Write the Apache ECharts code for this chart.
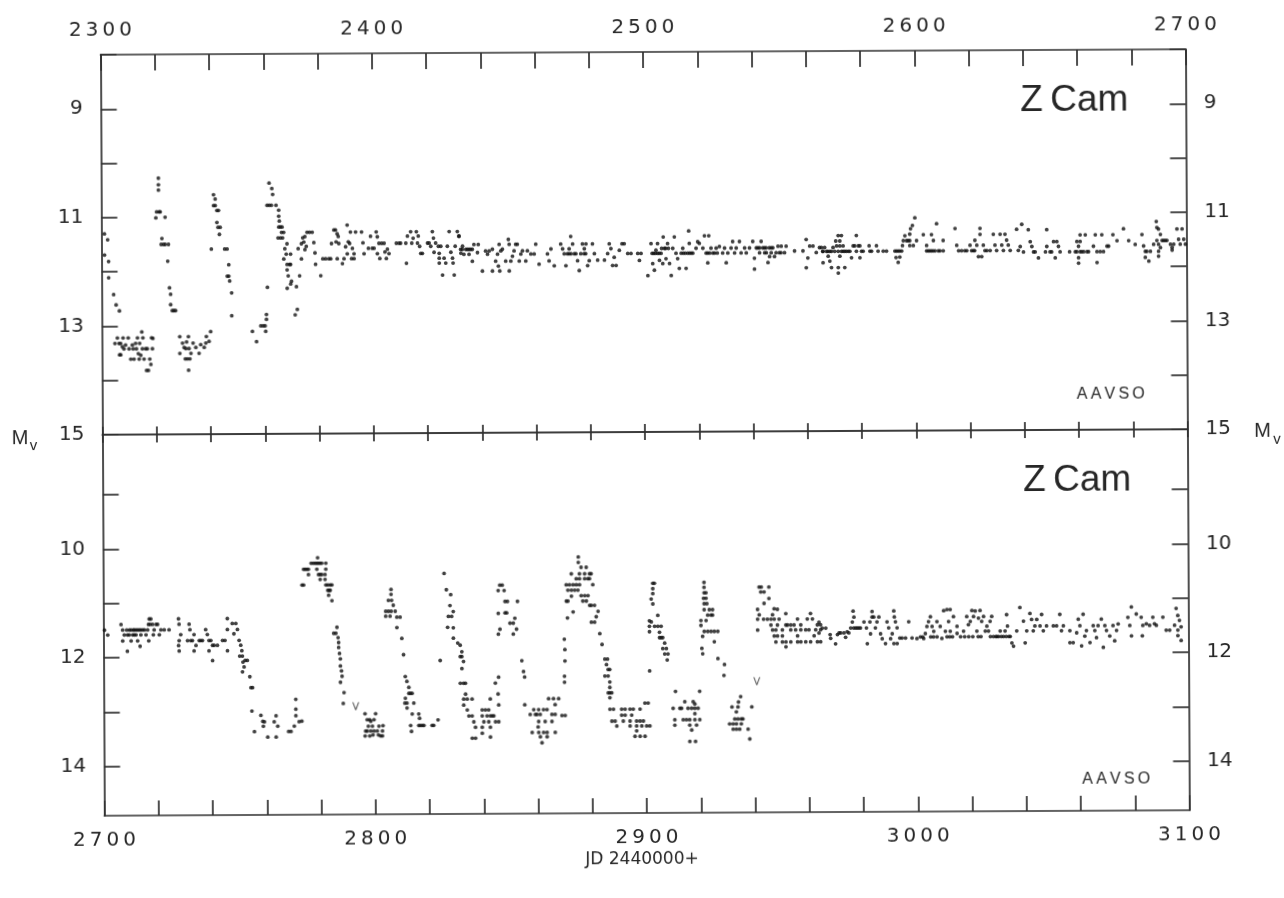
<!DOCTYPE html>
<html>
<head>
<meta charset="utf-8">
<script src="https://cdn.jsdelivr.net/npm/echarts@6/dist/echarts.min.js"></script>
<style>
html,body{margin:0;padding:0;background:#fff;overflow:hidden;}
#c{width:1284px;height:898px;transform:rotate(-0.29deg);transform-origin:642px 449px;}
</style>
</head>
<body>
<div id="c"></div>
<script>
// ---- tick labels ----
const topXLabels = [2300, 2400, 2500, 2600, 2700];
const botXLabels = [2700, 2800, 2900, 3000, 3100];
const topYLabels = [9, 11, 13, 15];
const botYLabels = [10, 12, 14];
const botYTicks = [9, 10, 11, 12, 13, 14];

// ---- Z Cam, JD 2442300-2442700 (day, visual magnitude) ----
const topPanel = [
[2301.1,11.30],[2302.3,11.41],[2301.1,11.69],[2302.6,11.81],[2302.6,12.11],[2304.4,12.42],[2305.3,12.61],[2306.5,12.72],
[2304.8,13.32],[2305.7,13.22],[2306.3,13.32],[2306.9,13.32],[2307.5,13.38],[2307.8,13.22],[2308.1,13.42],[2308.7,13.35],[2309.7,13.22],[2310.0,13.42],[2310.6,13.61],[2311.2,13.35],[2311.5,13.42],[2311.8,13.61],[2312.4,13.32],[2312.7,13.42],[2313.1,13.22],[2313.4,13.51],[2313.7,13.61],[2313.9,13.32],[2314.3,13.54],[2314.7,13.11],[2314.9,13.42],[2315.1,13.22],[2315.5,13.61],[2316.1,13.42],[2316.4,13.82],[2316.7,13.42],[2317.1,13.82],[2317.6,13.61],[2318.0,13.71],[2318.3,13.22],[2318.6,13.42],[2306.5,13.53],[2306.9,13.53],[2318.8,13.23],
[2321.1,10.28],[2321.1,10.40],[2321.1,10.50],[2320.4,10.90],[2321.3,10.90],[2321.7,10.90],[2320.1,11.01],[2323.5,11.00],[2322.3,11.39],[2322.0,11.50],[2322.9,11.50],[2323.5,11.50],[2324.7,11.50],[2324.4,11.81],[2325.0,12.30],[2325.4,12.42],[2325.4,12.61],[2326.0,12.72],[2326.6,12.72],[2327.2,12.72],
[2328.7,13.20],[2328.7,13.51],[2329.7,13.32],[2330.3,13.40],[2330.7,13.61],[2330.9,13.42],[2331.2,13.30],[2331.5,13.61],[2331.9,13.20],[2332.1,13.42],[2332.4,13.61],[2332.8,13.51],[2331.9,13.82],[2333.6,13.32],[2334.6,13.40],[2335.8,13.51],[2336.4,13.35],[2337.7,13.40],[2338.3,13.32],[2338.5,13.20],[2339.5,13.29],[2340.1,13.11],
[2341.4,10.59],[2342.0,10.67],[2341.4,10.79],[2342.0,10.79],[2342.6,10.88],[2343.2,10.88],[2342.6,11.10],[2343.0,11.19],[2343.8,11.19],[2343.5,11.32],[2340.5,11.59],[2345.4,11.59],[2346.3,11.59],[2346.9,11.88],[2346.3,12.09],[2346.9,12.09],[2347.2,12.18],[2347.9,12.40],[2347.9,12.82],
[2355.5,13.11],[2357.0,13.30],[2358.6,13.01],[2359.5,13.01],[2360.2,13.01],[2360.4,13.11],[2360.7,12.89],[2360.7,12.80],[2361.1,12.30],
[2361.9,10.38],[2362.9,10.48],[2363.2,10.59],[2361.1,10.79],[2361.9,10.79],[2362.7,10.79],[2364.4,10.79],[2365.4,10.88],[2365.4,10.99],[2365.6,11.08],[2365.4,11.19],[2366.0,11.19],[2366.6,11.19],[2366.4,11.29],[2367.2,11.29],[2365.1,11.39],[2366.0,11.39],[2366.8,11.39],[2368.4,11.50],[2367.6,11.59],[2368.1,11.69],[2369.7,11.69],[2367.2,11.78],[2368.4,11.88],[2369.3,11.88],[2369.7,11.88],[2368.4,11.98],[2368.8,12.09],[2373.0,12.09],[2370.0,12.19],[2368.4,12.32],[2369.7,12.24],[2371.8,12.29],[2372.1,12.71],[2371.3,12.81],
[2372.5,11.59],[2373.7,11.50],[2374.2,11.39],[2374.6,11.47],[2375.0,11.37],[2375.0,11.61],[2375.8,11.29],[2376.7,11.29],[2377.7,11.29],[2375.5,11.55],[2373.7,11.78],[2378.3,11.48],[2378.7,11.67],[2378.9,11.88],[2380.8,12.09],[2381.6,11.78],[2382.6,11.78],[2383.8,11.78],[2384.5,11.78],[2384.8,11.50],[2385.7,11.25],[2386.3,11.25],[2386.5,11.47],[2386.9,11.32],[2387.5,11.50],[2387.3,11.37],[2386.9,11.78],[2388.8,11.87],[2389.4,11.78],[2390.0,11.56],[2390.6,11.16],[2390.6,11.69],[2391.0,11.47],[2391.5,11.50],[2391.8,11.29],[2392.2,11.78],[2392.5,11.59],[2393.1,11.69],[2393.7,11.29],[2393.1,11.78],[2395.9,11.29],[2396.4,11.49],[2396.8,11.69],[2398.4,11.59],[2399.2,11.37],[2399.8,11.59],[2400.5,11.59],[2401.3,11.29],[2401.7,11.38],[2401.7,11.69],[2402.3,11.50],[2402.6,11.78],[2403.3,11.50],[2404.2,11.50],[2404.5,11.66],[2405.0,11.78],[2405.4,11.61],[2406.0,11.69],[2408.7,11.50],[2409.7,11.50],[2410.3,11.50],[2412.2,11.50],[2412.4,11.87],[2412.8,11.37],[2414.0,11.29],[2414.4,11.50],[2414.9,11.41],[2416.1,11.29],[2416.5,11.50],[2416.8,11.37],[2417.3,11.56],[2417.7,11.69],[2418.3,11.69],[2420.2,11.50],[2420.8,11.50],[2421.4,11.56],[2422.0,11.29],[2422.4,11.41],[2422.6,11.67],[2423.2,11.50],[2424.2,11.56],[2424.5,11.69],[2425.1,11.56],[2424.5,11.78],[2424.5,11.87],[2425.7,12.09],[2426.3,11.78],[2426.9,11.87],[2427.5,11.56],[2428.2,11.29],[2428.8,11.67],[2429.4,11.78],[2429.6,11.87],[2430.0,12.09],[2430.4,11.56],[2431.2,11.29],[2431.8,11.37],[2432.5,11.69],[2433.1,11.56],
[2431.8,11.38],[2433.0,11.62],[2432.4,11.62],[2433.6,11.71],[2434.3,11.62],[2434.9,11.62],[2435.5,11.71],[2435.5,11.62],[2436.1,11.62],[2436.7,11.62],[2436.7,11.84],[2437.3,11.53],[2438.9,11.53],[2438.6,11.68],[2440.4,12.02],[2441.6,11.65],[2442.3,11.71],[2442.9,11.65],[2444.1,11.62],[2444.1,12.02],[2445.3,11.84],[2446.0,11.71],[2446.3,11.93],[2446.6,11.53],[2446.8,12.02],[2447.2,11.65],[2447.8,11.62],[2449.0,11.84],[2450.0,11.44],[2450.3,12.02],[2450.3,11.53],[2450.9,11.84],[2451.5,11.75],[2452.1,11.65],[2452.7,11.53],[2453.3,11.53],[2454.0,11.84],[2454.6,11.71],[2455.2,11.65],[2456.4,11.84],[2457.0,11.65],[2458.3,11.71],[2459.5,11.71],[2460.1,11.53],[2461.3,11.90],[2464.4,11.71],[2465.0,11.84],[2465.7,11.62],[2466.9,11.93],[2469.3,11.53],[2470.0,11.62],[2470.6,11.71],[2471.2,11.93],[2471.8,11.71],[2472.4,11.71],[2473.1,11.71],[2472.4,11.62],[2473.0,11.39],[2473.7,11.53],[2474.3,11.71],[2474.9,11.71],[2475.5,11.84],[2476.1,12.02],[2476.7,11.71],[2477.3,11.53],[2477.9,11.71],[2478.5,11.71],[2478.0,11.62],[2478.6,11.53],[2479.2,11.93],[2479.8,11.84],[2481.0,11.53],[2481.7,11.71],[2482.9,11.83],[2485.4,11.83],[2486.6,11.71],[2487.2,11.53],[2487.8,11.62],[2488.4,11.93],[2489.0,11.78],[2489.7,11.93],[2490.9,11.65],[2491.9,11.53],[2492.7,11.53],[2494.0,11.71],[2495.2,11.71],[2497.7,11.71],[2498.3,11.84],[2498.9,11.71],
[2501.4,12.12],[2502.6,11.53],[2503.0,11.71],[2503.6,11.71],[2504.2,11.71],[2505.0,11.71],[2505.6,11.71],[2503.2,11.90],[2503.8,12.02],[2504.4,11.65],[2505.0,11.53],[2505.7,11.84],[2506.3,11.71],[2506.5,11.62],[2508.0,11.62],[2509.0,11.62],[2506.9,11.90],[2507.1,11.41],[2507.5,11.62],[2508.1,11.81],[2508.7,11.53],[2509.4,11.90],[2510.0,12.12],[2510.6,11.62],[2511.2,11.41],[2511.8,11.71],[2512.4,11.81],[2513.0,11.99],[2513.7,11.71],[2514.5,11.71],[2515.2,11.71],[2514.3,11.62],[2515.5,11.99],[2516.1,11.71],[2516.8,11.71],[2517.4,11.71],[2516.5,11.30],[2516.7,11.53],[2518.0,11.71],[2519.2,11.62],[2519.8,11.50],[2520.4,11.53],[2521.7,11.62],[2522.3,11.39],[2522.9,11.71],[2523.5,11.71],[2524.2,11.71],[2523.5,11.89],[2523.9,11.39],[2524.7,11.62],[2525.4,11.71],[2526.0,11.71],[2527.0,11.71],[2526.6,11.62],[2527.8,11.59],[2529.0,11.71],[2529.7,11.62],[2530.3,11.89],[2530.9,11.71],[2532.1,11.62],[2532.7,11.50],[2533.4,11.71],[2534.0,11.62],[2535.2,11.50],[2535.8,11.71],[2537.1,11.62],[2537.7,11.71],[2538.9,11.62],[2540.1,11.50],[2540.7,11.81],[2541.4,11.62],[2540.7,12.01],[2542.0,11.62],[2542.6,11.62],[2542.6,11.71],[2543.2,11.50],[2543.8,11.62],[2544.4,11.62],[2545.0,11.62],[2545.1,11.71],[2544.5,11.71],[2545.7,11.89],[2546.3,11.78],[2546.2,11.62],[2546.9,11.62],[2546.9,11.71],[2547.5,11.62],[2548.1,11.78],[2548.7,11.71],[2549.4,11.59],[2549.9,11.71],[2550.5,11.71],[2550.6,11.59],[2551.8,11.71],[2552.4,11.59],[2555.5,11.68],[2558.6,11.68],[2559.8,11.47],[2559.8,11.99],[2560.4,11.81],[2561.1,11.59],[2562.3,11.59],[2563.5,11.71],[2564.7,11.62],[2566.0,11.90],
[2565.4,11.62],[2565.9,11.69],[2566.0,11.69],[2566.6,11.62],[2567.3,11.69],[2567.8,11.69],[2567.9,11.78],[2568.5,11.69],[2569.1,11.69],[2568.5,11.87],[2569.1,11.99],[2569.7,11.62],[2570.3,11.69],[2570.7,11.50],[2571.0,11.59],[2571.6,11.40],[2572.2,11.50],[2572.2,11.59],[2571.6,11.69],[2572.2,11.78],[2572.8,11.40],[2572.8,11.69],[2573.4,11.59],[2573.4,11.69],[2574.0,11.69],[2571.6,11.99],[2571.6,12.09],[2574.0,11.99],[2574.6,11.69],[2575.3,11.69],[2575.9,11.69],[2576.5,11.81],[2577.1,11.59],[2577.7,11.59],[2578.3,11.40],[2578.3,11.69],[2579.0,11.59],[2579.6,11.59],[2579.6,11.81],[2580.2,11.69],[2580.8,11.69],[2583.0,11.59],[2583.3,11.69],[2583.9,11.69],[2585.7,11.59],[2586.3,11.69],[2588.2,11.69],[2589.4,11.69],
[2592.5,11.69],[2593.1,11.69],[2593.7,11.69],[2594.3,11.69],[2595.0,11.69],[2592.9,11.81],[2593.7,11.90],[2594.3,11.80],[2595.3,11.59],[2595.6,11.50],[2596.2,11.41],[2596.8,11.50],[2597.4,11.50],[2598.0,11.38],[2598.3,11.28],[2599.0,11.22],[2599.9,11.08],[2598.0,11.50],[2598.0,11.59],[2599.3,11.59],[2600.5,11.50],[2603.0,11.39],[2604.2,11.59],[2604.2,11.69],[2604.8,11.69],[2605.4,11.69],[2606.0,11.69],[2606.6,11.69],[2606.0,11.39],[2606.7,11.50],[2607.3,11.69],[2607.9,11.19],[2608.5,11.69],[2609.1,11.69],[2610.3,11.50],[2610.3,11.69],[2614.7,11.28],[2615.3,11.59],[2616.0,11.69],[2617.1,11.69],[2618.3,11.69],[2619.0,11.69],[2620.2,11.59],[2620.8,11.69],[2621.4,11.69],[2621.9,11.69],[2622.0,11.50],[2622.7,11.59],[2623.3,11.80],[2623.9,11.28],[2623.9,11.39],[2624.5,11.80],[2625.1,11.59],[2625.7,11.69],[2626.4,11.69],[2627.6,11.69],[2628.8,11.39],[2629.4,11.59],[2630.0,11.69],[2631.3,11.39],[2631.9,11.59],[2632.5,11.69],[2633.1,11.39],[2633.7,11.50],[2634.3,11.59],[2635.0,11.69],[2637.4,11.30],[2638.0,11.69],
[2638.7,11.62],[2639.3,11.21],[2639.9,11.72],[2641.7,11.31],[2642.4,11.53],[2643.0,11.62],[2643.6,11.72],[2644.2,11.72],[2645.4,11.83],[2648.0,11.72],[2648.5,11.31],[2648.5,11.62],[2649.7,11.72],[2650.3,11.72],[2651.0,11.53],[2651.6,11.83],[2652.2,11.53],[2652.8,11.62],[2653.4,11.72],[2656.9,11.72],[2659.0,11.72],[2659.6,11.72],[2659.6,11.53],[2660.2,11.62],[2660.8,11.41],[2660.8,11.53],[2660.8,11.72],[2660.2,11.83],[2660.2,11.93],[2661.4,11.72],[2662.1,11.72],[2662.7,11.41],[2663.3,11.72],[2663.9,11.72],[2665.7,11.62],[2666.4,11.41],[2667.0,11.72],[2667.0,11.92],[2668.2,11.72],[2668.8,11.41],[2669.4,11.72],[2670.7,11.62],[2671.3,11.62],[2672.9,11.41],[2674.4,11.52],[2676.8,11.30],[2678.7,11.52],[2681.1,11.59],[2683.6,11.41],[2684.2,11.62],[2684.8,11.72],[2684.8,11.83],[2685.4,11.72],[2686.1,11.90],[2686.7,11.72],[2687.9,11.59],[2688.9,11.17],[2689.1,11.28],[2689.7,11.31],[2690.4,11.41],[2691.0,11.52],[2689.1,11.52],[2689.7,11.59],[2690.4,11.65],[2689.7,11.72],[2689.7,11.81],[2691.6,11.52],[2692.2,11.52],[2692.8,11.52],[2694.1,11.59],[2694.7,11.65],[2694.7,11.70],[2695.3,11.59],[2696.5,11.31],[2697.1,11.50],[2697.7,11.59],[2698.4,11.31],[2699.0,11.50],[2699.6,11.59]
];

// ---- Z Cam, JD 2442700-2443100 ----
const bottomPanel = [
[2700.4,11.49],[2701.6,11.58],[2706.5,11.39],[2707.1,11.49],[2707.7,11.58],[2707.1,11.69],[2708.6,11.49],[2708.9,11.58],[2708.8,11.88],[2709.5,11.58],[2709.6,11.49],[2710.2,11.69],[2710.2,11.49],[2710.8,11.58],[2711.0,11.49],[2711.4,11.58],[2711.4,11.49],[2712.0,11.49],[2712.0,11.58],[2712.6,11.69],[2712.6,11.49],[2713.2,11.49],[2713.5,11.79],[2713.8,11.58],[2713.8,11.49],[2714.5,11.49],[2715.1,11.49],[2715.7,11.58],[2716.3,11.49],[2716.6,11.39],[2716.7,11.69],[2716.9,11.29],[2717.2,11.39],[2717.5,11.29],[2718.1,11.39],[2718.4,11.58],[2718.7,11.49],[2719.4,11.39],[2720.0,11.39],[2720.6,11.58],[2721.2,11.49],[2722.4,11.49],[2724.2,11.49],
[2727.7,11.29],[2727.9,11.39],[2727.9,11.69],[2727.9,11.88],[2728.5,11.58],[2727.7,11.78],[2731.0,11.69],[2731.6,11.39],[2731.9,11.49],[2732.2,11.69],[2732.8,11.69],[2733.4,11.58],[2733.4,11.88],[2734.1,11.78],[2735.3,11.69],[2735.9,11.69],[2736.5,11.69],[2737.7,11.49],[2738.3,11.58],[2738.9,11.69],[2738.9,11.88],[2739.6,11.69],[2740.2,11.78],[2740.2,12.06],[2740.8,11.78],[2742.0,11.78],[2743.9,11.69],[2744.8,11.69],[2745.7,11.88],[2745.7,11.29],[2745.7,11.49],[2747.5,11.38],[2748.8,11.38],[2748.1,11.57],[2749.4,11.49],[2750.0,11.69],[2750.6,11.78],[2751.0,11.88],[2751.2,11.98],[2750.2,11.98],[2751.4,12.09],[2752.2,12.06],[2751.8,12.18],[2751.2,12.27],[2753.0,12.06],[2753.9,12.36],[2754.3,12.56],[2754.9,12.56],
[2754.6,12.99],[2755.5,13.37],[2757.9,13.07],[2758.6,13.18],[2759.2,13.19],[2758.8,13.27],[2760.4,13.47],[2762.8,13.19],[2763.5,13.08],[2763.5,13.47],[2764.1,13.27],[2768.1,13.37],[2769.0,13.37],[2770.2,13.27],[2770.8,13.08],[2770.8,12.78],[2770.8,12.96],[2772.0,13.19],[2773.0,13.18],
[2773.3,10.68],[2773.9,10.68],[2773.9,10.39],[2774.5,10.39],[2775.1,10.39],[2775.7,10.49],[2775.7,10.39],[2776.7,10.28],[2777.5,10.28],[2778.2,10.28],[2778.8,10.28],[2779.4,10.28],[2780.0,10.28],[2780.6,10.28],[2779.1,10.18],[2778.8,10.39],[2779.4,10.49],[2780.0,10.49],[2780.6,10.49],[2780.0,10.58],[2782.1,10.28],[2782.1,10.39],[2781.8,10.49],[2781.8,10.58],[2782.1,10.68],[2782.8,10.68],[2783.7,10.68],[2784.3,10.68],[2782.8,10.78],[2783.3,10.78],[2783.7,10.78],[2783.1,10.87],[2784.3,10.97],
[2784.9,11.57],[2785.7,11.57],[2786.1,11.46],[2786.5,11.65],[2786.7,11.74],[2786.7,11.83],[2787.0,11.94],[2787.3,12.04],[2787.3,12.17],[2787.7,12.26],[2787.9,12.36],[2787.3,12.47],[2788.6,12.66],[2788.3,12.86],
[2796.3,13.05],[2797.1,13.16],[2798.0,13.16],[2798.4,13.19],[2797.5,13.28],[2799.0,13.28],[2799.6,13.16],[2800.2,13.05],[2801.4,13.28],[2802.9,13.27],[2796.5,13.37],[2797.1,13.37],[2798.4,13.37],[2799.6,13.37],[2800.8,13.37],[2796.3,13.46],[2798.0,13.46],[2799.2,13.44],[2801.2,13.44],[2802.0,13.46],[2802.7,13.46],[2802.7,13.37],
[2806.1,10.77],[2806.1,10.86],[2805.1,10.97],[2806.3,10.97],[2806.9,11.06],[2804.1,11.17],[2805.1,11.17],[2806.1,11.17],[2807.6,11.17],[2804.1,11.26],[2805.7,11.26],[2808.2,11.28],[2809.4,11.28],[2808.2,11.47],[2810.0,11.67],[2810.6,11.97],
[2811.2,12.37],[2811.8,12.46],[2812.5,12.57],[2812.5,12.68],[2813.1,12.68],[2813.7,12.68],[2811.2,12.77],[2811.0,12.86],[2811.8,12.86],[2811.8,12.95],[2814.3,12.86],[2813.7,13.06],[2813.1,13.27],[2813.4,13.38],[2816.1,13.06],[2816.4,13.14],[2816.1,13.27],[2816.7,13.27],[2817.4,13.27],[2818.0,13.27],[2821.0,13.27],[2821.6,13.27],[2823.2,13.17],[2824.1,12.08],
[2825.7,10.48],[2826.5,10.78],[2828.1,10.87],[2827.8,11.07],[2829.0,11.18],[2827.2,11.27],[2828.4,11.27],[2826.9,11.47],[2829.0,11.48],[2829.0,11.67],[2830.6,11.76],
[2831.5,11.80],[2832.1,11.92],[2831.5,12.01],[2832.1,12.01],[2832.7,12.10],[2832.1,12.23],[2831.5,12.50],[2832.7,12.50],[2833.4,12.50],[2833.4,12.70],[2832.7,12.79],[2834.0,12.79],[2835.8,12.79],[2832.7,12.90],[2834.0,12.99],[2834.6,13.10],[2835.8,13.10],[2836.4,13.21],[2837.0,13.31],[2835.8,13.51],[2837.0,13.51],
[2839.5,12.99],[2840.7,12.99],[2841.9,12.99],[2839.5,13.10],[2841.3,13.10],[2842.5,13.10],[2843.2,13.10],[2843.8,13.10],[2840.1,13.21],[2841.9,13.21],[2844.4,13.21],[2845.6,13.21],[2839.5,13.31],[2842.5,13.31],[2839.5,13.42],[2842.5,13.49],[2842.5,12.79],[2845.4,12.70],[2844.4,12.50],[2845.6,12.39],[2845.6,12.90],
[2846.2,10.70],[2847.1,10.70],[2845.6,10.80],[2847.8,10.80],[2848.1,11.00],[2849.0,11.00],[2852.7,11.00],[2845.6,11.22],[2848.1,11.21],[2848.7,11.21],[2851.7,11.31],[2849.9,11.40],[2851.1,11.40],[2846.2,11.51],[2852.3,11.51],[2845.6,11.60],[2851.1,11.60],[2854.2,12.09],[2854.8,12.29],[2855.2,12.39],
[2855.2,12.90],[2857.2,13.08],[2858.5,12.99],[2859.1,13.08],[2859.7,13.08],[2860.3,12.99],[2860.9,13.08],[2862.1,12.99],[2863.4,12.99],[2864.0,12.79],[2865.8,12.79],[2866.4,12.90],[2867.7,12.79],[2865.2,13.08],[2866.4,13.08],[2868.9,13.10],[2870.1,13.10],[2860.3,13.21],[2862.7,13.21],[2865.2,13.21],[2857.9,13.41],[2860.3,13.41],[2862.1,13.41],[2863.4,13.41],[2866.4,13.41],[2860.9,13.49],[2863.4,13.49],[2861.5,13.60],[2860.1,13.31],
[2869.9,11.70],[2870.1,11.89],[2870.1,12.10],[2869.9,12.38],[2869.9,12.49],[2871.1,11.31],[2873.2,11.20],[2870.7,11.00],[2871.3,11.00],[2872.6,10.91],[2871.3,10.80],[2872.6,10.80],[2873.8,10.80],[2875.0,10.80],[2876.2,10.90],[2877.5,10.90],[2878.7,10.90],[2870.7,10.70],[2871.9,10.70],[2873.2,10.70],[2874.4,10.70],[2875.6,10.70],[2872.6,10.50],[2875.6,10.50],[2877.5,10.50],[2879.3,10.50],[2879.9,10.50],[2874.4,10.59],[2875.6,10.59],[2877.5,10.59],[2878.7,10.59],[2879.3,10.59],[2876.2,10.38],[2878.1,10.38],[2875.2,10.29],[2875.2,10.19],[2880.5,10.70],[2876.8,11.00],[2878.1,11.00],[2879.3,11.08],[2879.9,11.08],[2881.1,11.08],[2882.4,11.19],[2881.7,11.29],[2879.9,11.39],[2881.1,11.39],[2883.0,11.60],[2883.8,11.80],
[2884.8,12.07],[2885.8,12.07],[2885.4,12.17],[2886.0,12.26],[2886.6,12.26],[2884.8,12.38],[2886.0,12.38],[2886.6,12.49],[2886.6,12.59],[2886.0,12.69],[2886.6,12.69],[2887.3,12.69],[2886.6,12.78],
[2886.6,12.99],[2887.9,12.99],[2890.9,12.99],[2892.2,12.99],[2894.0,12.99],[2895.2,12.99],[2897.7,12.99],[2899.5,12.88],[2900.7,12.88],[2890.9,13.10],[2892.2,13.10],[2894.6,13.10],[2894.0,13.21],[2887.3,13.21],[2888.5,13.21],[2889.1,13.30],[2891.5,13.21],[2896.4,13.21],[2897.7,13.21],[2898.9,13.21],[2896.4,13.30],[2898.3,13.30],[2900.1,13.30],[2901.3,13.30],[2894.0,13.30],[2896.4,13.39],[2895.8,13.49],[2897.7,13.49],[2899.5,13.49],
[2902.6,10.68],[2903.2,10.68],[2902.6,10.78],[2902.6,10.87],[2902.0,10.97],[2902.6,11.06],[2904.4,11.27],[2901.3,11.37],[2902.0,11.39],[2901.3,11.47],[2903.2,11.47],[2904.4,11.47],[2905.6,11.47],[2901.3,11.57],[2905.0,11.58],[2905.0,11.68],[2905.6,11.68],[2906.2,11.68],[2906.9,11.78],[2906.2,11.88],[2907.5,11.88],[2906.9,11.98],[2908.1,11.98],[2907.8,12.09],[2901.3,12.29],
[2910.8,12.67],[2919.7,12.67],[2914.2,12.86],[2917.3,12.86],[2917.9,12.90],[2909.9,12.98],[2912.4,12.98],[2913.0,12.98],[2915.4,12.98],[2916.7,12.98],[2917.9,12.98],[2919.1,12.98],[2917.9,13.08],[2910.5,13.19],[2913.6,13.19],[2914.8,13.19],[2916.0,13.19],[2917.9,13.19],[2919.7,13.19],[2910.5,13.29],[2916.0,13.29],[2918.5,13.29],[2916.7,13.38],[2916.0,13.59],[2918.1,13.59],
[2921.5,10.67],[2921.5,10.76],[2921.5,10.86],[2922.2,10.86],[2921.3,10.96],[2922.2,10.96],[2921.5,11.06],[2922.5,11.06],[2921.5,11.17],[2923.4,11.17],[2924.6,11.17],[2922.8,11.27],[2924.0,11.27],[2924.6,11.27],[2920.3,11.37],[2922.2,11.37],[2920.3,11.46],[2921.5,11.57],[2922.8,11.57],[2924.0,11.57],[2925.2,11.57],[2926.5,11.57],[2920.9,11.66],[2925.2,11.76],[2920.6,11.88],[2920.9,11.98],[2926.5,12.07],[2928.9,12.18],[2928.7,12.38],
[2934.8,12.77],[2934.0,12.87],[2931.6,12.96],[2933.8,12.96],[2938.9,12.96],[2933.2,13.05],[2932.6,13.18],[2933.8,13.18],[2935.0,13.18],[2935.6,13.18],[2930.7,13.27],[2932.0,13.27],[2933.2,13.27],[2935.0,13.27],[2932.0,13.37],[2933.2,13.37],[2934.4,13.37],[2937.5,13.37],[2938.1,13.55],
[2941.8,10.76],[2942.6,10.76],[2945.4,10.76],[2942.4,10.85],[2943.6,10.85],[2945.4,10.97],[2943.6,11.06],[2947.3,11.16],[2948.5,11.17],[2941.2,11.17],[2941.8,11.27],[2946.7,11.27],[2951.6,11.25],[2941.2,11.35],[2943.4,11.35],[2944.8,11.35],[2946.1,11.35],[2947.3,11.35],[2949.1,11.35],[2946.1,11.46],[2948.5,11.46],[2951.6,11.46],[2952.2,11.46],[2953.4,11.46],[2954.6,11.46],[2955.9,11.35],[2957.1,11.46],[2959.5,11.35],[2960.7,11.25],[2961.4,11.35],[2963.2,11.46],[2964.4,11.46],[2941.2,11.55],[2946.7,11.55],[2947.9,11.55],[2950.3,11.55],[2953.4,11.55],[2955.2,11.55],[2957.1,11.55],[2958.9,11.55],[2960.1,11.55],[2962.6,11.55],[2964.4,11.55],[2947.3,11.66],[2948.5,11.66],[2950.3,11.66],[2955.9,11.66],[2962.0,11.66],[2947.9,11.77],[2950.3,11.77],[2951.6,11.77],[2953.4,11.77],[2955.9,11.77],[2957.1,11.77],[2958.9,11.77],[2960.7,11.77],[2963.2,11.77],[2964.4,11.77],[2951.6,11.86],
[2963.8,11.41],[2965.0,11.52],[2963.8,11.61],[2966.3,11.52],[2967.9,11.64],[2968.1,11.71],[2969.9,11.81],[2970.6,11.64],[2971.2,11.61],[2971.8,11.61],[2973.0,11.61],[2973.6,11.69],[2974.2,11.59],[2974.8,11.61],[2975.5,11.52],[2976.1,11.41],[2976.4,11.21],[2976.7,11.32],[2976.6,11.52],[2977.3,11.52],[2977.9,11.52],[2978.5,11.52],[2979.1,11.52],[2980.4,11.41],[2981.3,11.52],[2981.6,11.81],[2982.6,11.41],[2982.8,11.63],[2983.4,11.22],[2983.4,11.32],[2984.0,11.32],[2984.6,11.52],[2985.2,11.41],[2985.9,11.32],[2986.5,11.63],[2987.1,11.72],[2988.3,11.81],[2988.9,11.41],[2989.5,11.52],[2990.2,11.72],[2990.8,11.63],[2991.4,11.21],[2991.6,11.32],[2992.0,11.41],[2992.6,11.52],[2991.4,11.81],[2992.6,11.81],[2993.6,11.71],[2994.4,11.71],[2995.7,11.71],[2996.9,11.41],[2998.1,11.71],[2999.9,11.72],
[3001.2,11.69],[3002.0,11.69],[3002.4,11.72],[3003.0,11.63],[3003.6,11.50],[3004.2,11.41],[3004.9,11.32],[3005.0,11.69],[3006.0,11.69],[3005.5,11.50],[3006.1,11.59],[3007.3,11.41],[3007.3,11.69],[3008.5,11.50],[3009.1,11.72],[3009.8,11.21],[3011.0,11.19],[3011.0,11.69],[3012.0,11.69],[3013.0,11.69],[3012.2,11.19],[3013.4,11.32],[3011.6,11.41],[3010.4,11.59],[3012.2,11.59],[3014.7,11.50],[3014.7,11.63],[3016.0,11.69],[3017.5,11.69],[3017.1,11.59],[3018.3,11.32],[3018.9,11.47],[3019.0,11.69],[3019.6,11.41],[3020.2,11.21],[3020.5,11.69],[3020.8,11.32],[3021.4,11.22],[3022.0,11.59],[3022.5,11.69],[3022.6,11.35],[3023.2,11.21],[3023.5,11.69],[3023.8,11.41],[3024.5,11.32],[3025.1,11.59],[3025.7,11.50],[3026.3,11.59],[3026.9,11.41],[3027.0,11.69],[3027.5,11.32],[3028.1,11.69],[3029.0,11.69],[3029.4,11.69],[3030.0,11.69],[3030.6,11.59],[3031.0,11.69],[3031.8,11.69],[3032.4,11.59],[3032.8,11.69],[3033.0,11.29],[3033.3,11.50],[3033.8,11.69],[3034.3,11.69],[3034.9,11.81],[3035.5,11.87],[3036.7,11.59],[3037.9,11.16],[3039.2,11.41],[3039.8,11.81],[3040.4,11.59],[3041.6,11.27],[3042.2,11.38],[3042.8,11.59],[3043.4,11.50],[3044.1,11.38],[3045.3,11.50],[3045.9,11.29],[3046.5,11.59],[3047.7,11.50],[3050.2,11.50],[3051.4,11.50],[3052.6,11.29],[3053.2,11.59],[3053.9,11.50],[3056.3,11.59],[3056.3,11.81],[3057.5,11.81],[3058.8,11.63],[3059.4,11.38],[3060.0,11.50],[3060.6,11.87],[3061.2,11.29],[3061.8,11.69],[3062.4,11.59],[3063.7,11.81],[3064.9,11.50],[3065.5,11.59],[3066.1,11.72],[3066.7,11.50],[3067.9,11.38],[3068.6,11.90],[3069.2,11.50],[3069.8,11.59],[3071.0,11.69],[3072.2,11.50],[3072.8,11.78],[3073.5,11.59],[3074.1,11.47],[3077.7,11.35],[3078.4,11.50],[3079.0,11.16],[3079.0,11.69],[3080.8,11.29],[3082.6,11.35],[3083.0,11.69],[3083.2,11.50],[3084.5,11.47],[3085.7,11.50],[3086.9,11.35],[3087.5,11.47],[3088.2,11.50],[3090.6,11.35],[3091.8,11.59],[3093.1,11.59],[3094.9,11.50],[3095.5,11.19],[3096.1,11.32],[3096.1,11.59],[3096.1,11.69],[3096.7,11.41],[3097.3,11.78],[3097.3,11.53]
];

// ---- upper limits ("v" marks) ----
const upperLimits = [[2792.9, 12.91], [2940.8, 12.49]];

// ---------------------------------------------------------------
const INK = '#262626';
const LINE = {color: '#303030', width: 1.7};
const digitFont = 'DejaVu Sans';
const spaced = v => String(v).split('').join('\u2009');

function xAxis(gridIndex, position, min, max, labels, tickLen, margin) {
  return {
    type: 'value', gridIndex, position, min, max, interval: 20,
    axisLine: {show: true, onZero: false, lineStyle: LINE},
    axisTick: {show: true, inside: true, length: tickLen, lineStyle: LINE},
    axisLabel: {
      show: !!labels, margin: margin || 14, color: INK, fontFamily: digitFont, fontSize: 20,
      formatter: v => (labels && labels.includes(v)) ? spaced(v) : ''
    },
    splitLine: {show: false}
  };
}
function yTop(position) {
  return {
    type: 'value', gridIndex: 0, position, inverse: true, min: 8, max: 15, interval: 1,
    axisLine: {show: true, onZero: false, lineStyle: LINE},
    axisTick: {show: true, inside: true, length: 16, lineStyle: LINE},
    axisLabel: {margin: 18, color: INK, fontFamily: digitFont, fontSize: 20,
      formatter: v => topYLabels.includes(v) ? String(v) : ''},
    splitLine: {show: false}
  };
}
function yBot(position) {
  return {
    type: 'value', gridIndex: 1, position, inverse: true, min: 7.9, max: 14.9,
    axisLine: {show: true, onZero: false, lineStyle: LINE},
    axisTick: {show: true, inside: true, length: 16, lineStyle: LINE, customValues: botYTicks},
    axisLabel: {margin: 18, color: INK, fontFamily: digitFont, fontSize: 20, customValues: botYLabels,
      formatter: v => String(Math.round(v))},
    splitLine: {show: false}
  };
}
function txt(x, y, text, font, align) {
  return {type: 'text', x, y, silent: true, style: {
    text, font, fill: INK, align: align || 'center', verticalAlign: 'middle',
    textAlign: align || 'center', textVerticalAlign: 'middle'}};
}

const chart = echarts.init(document.getElementById('c'), null, {renderer: 'canvas'});
chart.setOption({
  animation: false,
  backgroundColor: '#fff',
  grid: [
    {left: 102.5, width: 1085, top: 52, height: 380},
    {left: 102.5, width: 1085, top: 432, height: 381}
  ],
  xAxis: [
    xAxis(0, 'top', 2300, 2700, topXLabels, 16, 14),
    xAxis(0, 'bottom', 2300, 2700, null, 8),
    xAxis(1, 'bottom', 2700, 3100, botXLabels, 15, 15),
    xAxis(1, 'top', 2700, 3100, null, 8)
  ],
  yAxis: [yTop('left'), yTop('right'), yBot('left'), yBot('right')],
  series: [
    {type: 'scatter', xAxisIndex: 0, yAxisIndex: 0, data: topPanel,
     symbol: 'circle', symbolSize: 3.8, itemStyle: {color: '#111'}},
    {type: 'scatter', xAxisIndex: 2, yAxisIndex: 2, data: bottomPanel,
     symbol: 'circle', symbolSize: 3.8, itemStyle: {color: '#111'}},
    {type: 'scatter', xAxisIndex: 2, yAxisIndex: 2, data: upperLimits,
     symbol: 'path://M0,0L1.6,0L5,7.6L8.4,0L10,0L5.7,10L4.3,10Z', symbolSize: [7, 8],
     itemStyle: {color: '#333'}}
  ],
  graphic: [
    txt(1076, 103, 'Z\u2009Cam', '37px "Liberation Sans"'),
    txt(1077, 483, 'Z\u2009Cam', '37px "Liberation Sans"'),
    txt(1111, 397, 'A\u2009A\u2009V\u2009S\u2009O', '16px "Liberation Sans"'),
    txt(1114.5, 781.5, 'A\u2009A\u2009V\u2009S\u2009O', '16px "Liberation Sans"'),
    txt(20, 435, 'M', '20px "Liberation Sans"'),
    txt(33.5, 443, 'v', '15px "Liberation Sans"'),
    txt(1262.5, 434.5, 'M', '20px "Liberation Sans"'),
    txt(1277, 443, 'v', '15px "Liberation Sans"'),
    txt(640, 860, 'JD 2440000+', '17px "DejaVu Sans"')
  ]
});
</script>
</body>
</html>
